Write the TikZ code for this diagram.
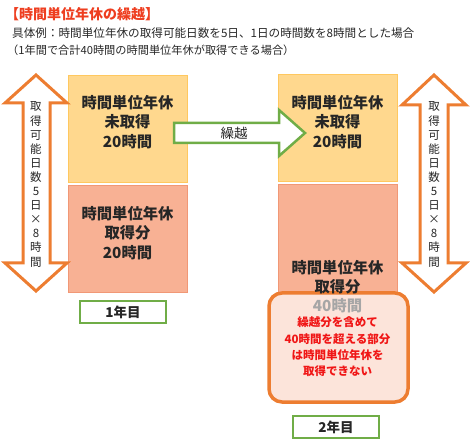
\documentclass[tikz,border=0pt]{standalone}
\usepackage{fontspec}
\setmainfont{Noto Sans CJK JP}
\definecolor{titlered}{RGB}{238,62,32}
\definecolor{textdark}{RGB}{38,38,38}
\definecolor{boxupper}{RGB}{255,216,142}
\definecolor{boxupperline}{RGB}{255,200,95}
\definecolor{boxlower}{RGB}{248,177,148}
\definecolor{boxlowerline}{RGB}{241,152,118}
\definecolor{palepink}{RGB}{252,228,218}
\definecolor{arroworange}{RGB}{237,125,49}
\definecolor{yeargreen}{RGB}{112,173,71}
\definecolor{textgray}{RGB}{166,166,166}
\definecolor{notered}{RGB}{240,22,22}
\newcommand{\jsize}[2]{\fontsize{#1}{#2}\selectfont}

\begin{document}
\begin{tikzpicture}[x=1pt, y=-1pt,
    upperbox/.style={fill=boxupper, draw=boxupperline, line width=0.8pt},
    lowerbox/.style={fill=boxlower, draw=boxlowerline, line width=0.8pt},
    boxtext/.style={align=center, inner sep=0pt, text=textdark, font=\bfseries\jsize{15.3}{19.5}},
    vtext/.style={align=center, inner sep=0pt, text=textdark, font=\jsize{11.5}{14.1}},
    yearbox/.style={draw=yeargreen, line width=2.5pt, fill=white, minimum width=86pt,
      minimum height=22pt, inner sep=0pt, text=textdark, font=\bfseries\jsize{13.5}{15}},
    blockarrow/.style={draw=arroworange, line width=3pt, fill=white, line join=miter}]
  \useasboundingbox (0,0) rectangle (474,446);

  % heading
  \node[anchor=west, inner sep=0pt] (title) at (5,14)
    {\bfseries\jsize{14}{16}\textcolor{titlered}{【時間単位年休の繰越】}};
  \node[anchor=west, inner sep=0pt] (example) at (12,33)
    {\jsize{11.6}{13}\textcolor{textdark}{具体例：時間単位年休の取得可能日数を5日、1日の時間数を8時間とした場合}};
  \node[anchor=west, inner sep=0pt] (condition) at (7,50)
    {\jsize{11.2}{13}\textcolor{textdark}{（1年間で合計40時間の時間単位年休が取得できる場合）}};

  % year 1
  \draw[upperbox] (68,75) rectangle (187,182);
  \draw[lowerbox] (68,185) rectangle (187,292);
  \node[boxtext] (yearoneupper) at (127.5,122) {時間単位年休\\未取得\\20時間};
  \node[boxtext] (yearonelower) at (127.5,233) {時間単位年休\\取得分\\20時間};
  \node[yearbox] (yearone) at (123,312) {1年目};

  % year 2
  \draw[upperbox] (278,74) rectangle (397,181);
  \draw[lowerbox] (278,184) rectangle (397,300);
  \draw[draw=arroworange, line width=3.5pt, fill=palepink, rounded corners=13pt]
    (269,293) rectangle (408,402);
  \node[boxtext] (yeartwoupper) at (337.5,122) {時間単位年休\\未取得\\20時間};
  \node[boxtext] (yeartwolower) at (337.5,277) {時間単位年休\\取得分};
  \node[boxtext, text=textgray] (yeartwolimit) at (337.5,306) {40時間};
  \node[align=center, inner sep=0pt, text=notered, font=\bfseries\jsize{11.5}{16.3}]
    (yeartwonote) at (337.5,347) {繰越分を含めて\\40時間を超える部分\\は時間単位年休を\\取得できない};
  \node[yearbox] (yeartwo) at (336,427) {2年目};

  % carry-over arrow
  \draw[draw=yeargreen, line width=2.5pt, fill=white, line join=miter]
    (174,123) -- (279,123) -- (279,110) -- (305,133) -- (279,156) -- (279,143) -- (174,143) -- cycle;
  \node[inner sep=0pt, text=textdark, font=\jsize{13.5}{15}] (carry) at (234,133) {繰越};

  % days x hours arrows
  \draw[blockarrow] (36,75) -- (67,103) -- (50,103) -- (50,263) -- (67,263) -- (36,291)
    -- (5,263) -- (23,263) -- (23,103) -- (5,103) -- cycle;
  \node[vtext] (spanleft) at (36,184.5) {取\\得\\可\\能\\日\\数\\5\\日\\×\\8\\時\\間};
  \draw[blockarrow] (434,75) -- (466,105) -- (448,105) -- (448,263) -- (466,263) -- (434,292)
    -- (402,263) -- (420,263) -- (420,105) -- (402,105) -- cycle;
  \node[vtext] (spanright) at (434,184.5) {取\\得\\可\\能\\日\\数\\5\\日\\×\\8\\時\\間};
\end{tikzpicture}
\end{document}
